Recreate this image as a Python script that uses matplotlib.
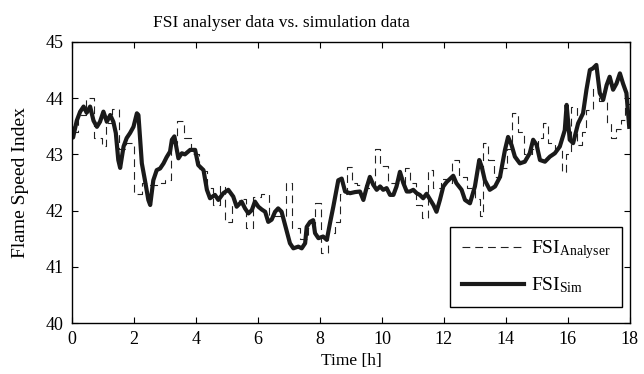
import matplotlib
matplotlib.use("Agg")
import matplotlib.pyplot as plt

# Simulated FSI (thick solid line)
sim_t = [0.0, 0.03, 0.15, 0.26, 0.37, 0.47, 0.58, 0.69, 0.8, 0.9, 1.01, 1.12, 1.23, 1.33,
         1.41, 1.49, 1.55, 1.66, 1.76, 1.87, 1.98, 2.09, 2.14, 2.25, 2.35, 2.46, 2.52, 2.62,
         2.73, 2.84, 2.95, 3.05, 3.16, 3.22, 3.3, 3.43, 3.54, 3.64, 3.81, 3.97, 4.07, 4.24,
         4.35, 4.45, 4.61, 4.72, 4.88, 5.04, 5.2, 5.31, 5.47, 5.58, 5.69, 5.8, 5.9, 6.01,
         6.12, 6.23, 6.33, 6.44, 6.55, 6.65, 6.76, 6.92, 7.03, 7.14, 7.3, 7.41, 7.52, 7.57,
         7.68, 7.78, 7.84, 7.95, 8.1, 8.22, 8.32, 8.43, 8.59, 8.7, 8.81, 8.97, 9.13, 9.29,
         9.4, 9.5, 9.61, 9.72, 9.83, 9.94, 10.04, 10.15, 10.26, 10.37, 10.47, 10.58, 10.69,
         10.8, 10.9, 11.01, 11.12, 11.22, 11.33, 11.44, 11.55, 11.66, 11.76, 11.87, 11.98,
         12.09, 12.3, 12.4, 12.57, 12.68, 12.84, 13.0, 13.14, 13.22, 13.32, 13.48, 13.65,
         13.81, 13.97, 14.07, 14.18, 14.29, 14.45, 14.61, 14.77, 14.88, 14.99, 15.1, 15.26,
         15.42, 15.58, 15.74, 15.9, 15.96, 16.06, 16.17, 16.33, 16.49, 16.6, 16.71, 16.81,
         16.92, 17.03, 17.14, 17.25, 17.35, 17.46, 17.57, 17.68, 17.78, 17.89, 17.98]
sim_v = [43.45, 43.3, 43.6, 43.76, 43.85, 43.74, 43.85, 43.6, 43.49, 43.58, 43.76, 43.58,
         43.7, 43.58, 43.38, 42.9, 42.76, 43.14, 43.29, 43.38, 43.49, 43.73, 43.7, 42.84,
         42.54, 42.19, 42.1, 42.54, 42.72, 42.75, 42.84, 42.95, 43.05, 43.26, 43.32, 42.93,
         43.02, 43.0, 43.08, 43.08, 42.81, 42.72, 42.37, 42.22, 42.28, 42.19, 42.31, 42.37,
         42.25, 42.07, 42.16, 42.04, 41.95, 42.01, 42.16, 42.07, 42.02, 41.98, 41.8, 41.84,
         41.98, 42.04, 41.98, 41.65, 41.42, 41.33, 41.36, 41.33, 41.42, 41.71, 41.8, 41.83,
         41.6, 41.51, 41.54, 41.48, 41.77, 42.07, 42.54, 42.57, 42.34, 42.31, 42.33, 42.34,
         42.19, 42.4, 42.6, 42.46, 42.37, 42.43, 42.37, 42.4, 42.28, 42.28, 42.43, 42.69,
         42.49, 42.34, 42.34, 42.37, 42.31, 42.28, 42.22, 42.3, 42.2, 42.1, 41.98, 42.19,
         42.43, 42.51, 42.62, 42.49, 42.37, 42.19, 42.13, 42.43, 42.9, 42.78, 42.54, 42.37,
         42.43, 42.6, 43.08, 43.31, 43.17, 42.96, 42.84, 42.87, 43.02, 43.26, 43.17, 42.9,
         42.87, 42.96, 43.02, 43.14, 43.43, 43.88, 43.26, 43.2, 43.55, 43.73, 44.15, 44.5,
         44.53, 44.59, 44.09, 43.97, 44.23, 44.38, 44.15, 44.26, 44.44, 44.26, 44.09, 43.49]

# Analyser FSI (thin dashed step line)
ana_t = [0.0, 0.2, 0.45, 0.7, 0.95, 1.1, 1.3, 1.5, 1.75, 2.0, 2.25, 2.5, 2.75, 3.0, 3.2,
         3.4, 3.6, 3.85, 4.1, 4.35, 4.55, 4.77, 4.94, 5.16, 5.4, 5.6, 5.85, 6.1, 6.35, 6.6,
         6.9, 7.1, 7.35, 7.6, 7.84, 8.03, 8.25, 8.5, 8.65, 8.87, 9.03, 9.2, 9.5, 9.77, 9.94,
         10.2, 10.45, 10.74, 10.9, 11.1, 11.3, 11.5, 11.65, 11.9, 12.1, 12.25, 12.5, 12.75,
         13.0, 13.16, 13.26, 13.42, 13.6, 13.85, 14.05, 14.2, 14.4, 14.6, 14.85, 15.05, 15.2,
         15.35, 15.6, 15.8, 15.95, 16.1, 16.3, 16.45, 16.6, 16.8, 17.0, 17.25, 17.4, 17.55,
         17.7, 17.85, 18.0]
ana_v = [43.4, 43.7, 44.0, 43.3, 43.15, 43.55, 43.8, 43.1, 43.2, 42.3, 42.5, 42.45, 42.5,
         42.55, 43.2, 43.6, 43.3, 43.0, 42.7, 42.4, 42.1, 42.44, 41.8, 42.1, 42.2, 41.7,
         42.25, 42.3, 41.9, 41.9, 42.5, 41.7, 41.5, 41.7, 42.13, 41.25, 41.6, 41.8, 42.3,
         42.78, 42.5, 42.45, 42.4, 43.1, 42.8, 42.5, 42.5, 42.76, 42.5, 42.1, 41.87, 42.72,
         42.4, 42.56, 42.5, 42.9, 42.6, 42.4, 42.2, 41.9, 43.2, 42.9, 42.6, 42.75, 43.1,
         43.74, 43.4, 43.0, 43.1, 43.3, 43.55, 43.2, 43.1, 42.69, 43.0, 43.85, 43.17, 43.4,
         43.79, 44.2, 43.95, 43.55, 43.3, 43.45, 43.62, 43.9, 43.9]

x_ticks = list(range(0, 19, 2))
y_ticks = [40, 41, 42, 43, 44, 45]

plt.rcParams["font.family"] = ["Liberation Serif", "DejaVu Serif"]
plt.rcParams["mathtext.fontset"] = "custom"
plt.rcParams["mathtext.rm"] = "Liberation Serif"
plt.rcParams["mathtext.it"] = "Liberation Serif:italic"

fig = plt.figure(figsize=(6.44, 3.74), dpi=100)
ax = fig.add_axes([0.112, 0.136, 0.866, 0.752])

ax.plot(ana_t, ana_v, drawstyle="steps-post", color="#222222", lw=0.8,
        dashes=(7, 4.5), label=r"FSI$_{\mathrm{Analyser}}$")
ax.plot(sim_t, sim_v, color="#1a1a1a", lw=3.0, solid_joinstyle="round",
        label=r"FSI$_{\mathrm{Sim}}$")

ax.set_xlim(0, 18)
ax.set_ylim(40, 45)
ax.set_xticks(x_ticks)
ax.set_yticks(y_ticks)
ax.tick_params(direction="in", top=True, right=True, labelsize=13, length=4, width=0.8)
ax.tick_params(axis="y", pad=6)
ax.tick_params(axis="x", pad=6)
for s in ax.spines.values():
    s.set_linewidth(1.0)

ax.set_xlabel("Time [h]", fontsize=12.5, labelpad=3)
ax.set_ylabel("Flame Speed Index", fontsize=14, labelpad=12)
ax.set_title("FSI analyser data vs. simulation data", fontsize=12.5, x=0.375, pad=11)

leg = ax.legend(loc="lower right", fontsize=14, handlelength=3.2, handletextpad=0.35,
                fancybox=False, edgecolor="black", framealpha=1, borderpad=0.6,
                labelspacing=0.75, borderaxespad=0, bbox_to_anchor=(0.9857, 0.057))
leg.get_frame().set_linewidth(1.0)

fig.savefig("out.png", dpi=100)
